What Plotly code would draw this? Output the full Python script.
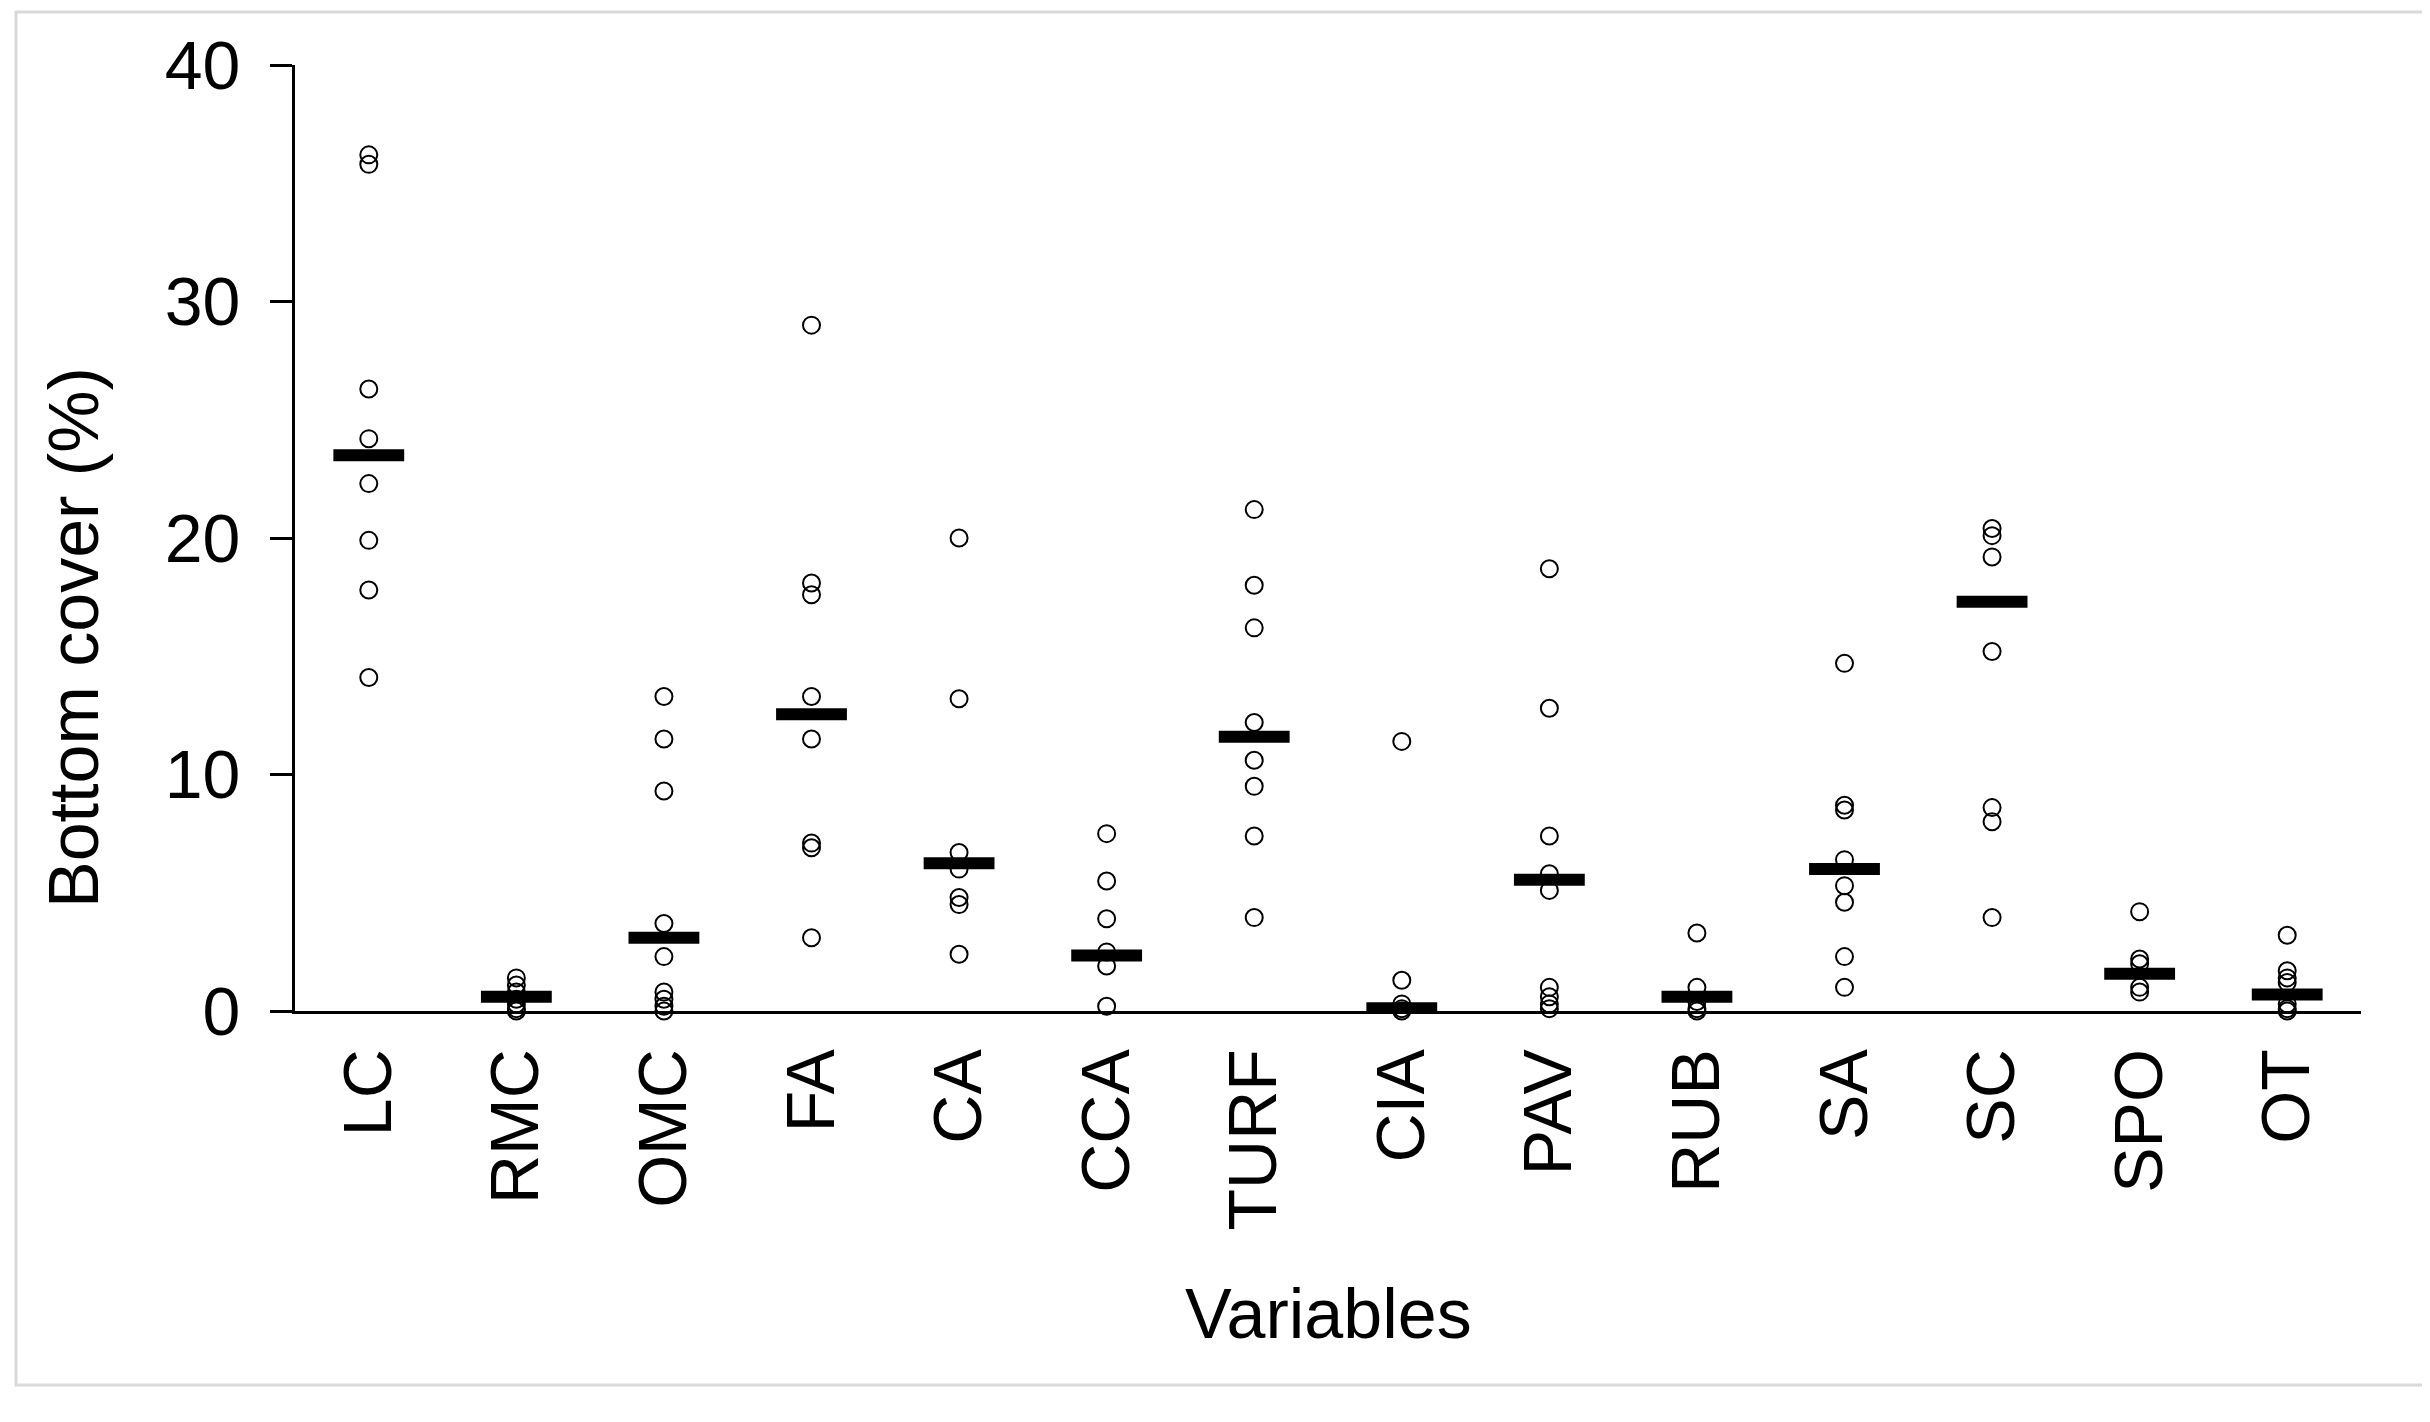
import plotly.graph_objects as go

categories = ["LC", "RMC", "OMC", "FA", "CA", "CCA", "TURF", "CIA", "PAV", "RUB", "SA", "SC", "SPO", "OT"]

lc = [36.2, 35.8, 26.3, 24.2, 22.3, 19.9, 17.8, 14.1]
rmc = [1.4, 1.1, 0.8, 0.5, 0.3, 0.1, 0.0]
omc = [13.3, 11.5, 9.3, 3.7, 2.3, 0.8, 0.5, 0.2, 0.0]
fa = [29.0, 18.1, 17.6, 13.3, 11.5, 7.1, 6.9, 3.1]
ca = [20.0, 13.2, 6.7, 6.0, 4.8, 4.5, 2.4]
cca = [7.5, 5.5, 3.9, 2.5, 1.9, 0.2]
turf = [21.2, 18.0, 16.2, 12.2, 10.6, 9.5, 7.4, 3.95]
cia = [11.4, 1.3, 0.3, 0.1, 0.0]
pav = [18.7, 12.8, 7.4, 5.8, 5.1, 1.0, 0.6, 0.3, 0.1]
rub = [3.3, 1.0, 0.4, 0.1, 0.0]
sa = [14.7, 8.7, 8.5, 6.4, 5.3, 4.6, 2.3, 1.0]
sc = [20.4, 20.1, 19.2, 15.2, 8.6, 8.0, 3.95]
spo = [4.2, 2.2, 2.0, 1.0, 0.8]
ot = [3.2, 1.7, 1.4, 1.2, 0.3, 0.1, 0.0]

means = [23.5, 0.6, 3.1, 12.55, 6.25, 2.35, 11.6, 0.12, 5.55, 0.6, 6.0, 17.3, 1.57, 0.7]

y_ticks = [0, 10, 20, 30, 40]

series = [lc, rmc, omc, fa, ca, cca, turf, cia, pav, rub, sa, sc, spo, ot]

W, H = 2430, 1422
L, R, T, B = 287, 77, 57, 419
pw, ph = W - L - R, H - T - B

def px_x(p):
    return (p - L) / pw

def px_y(p):
    return (H - B - p) / ph

FONT = "Liberation Sans, Arial, sans-serif"

xs, ys = [], []
for i, vals in enumerate(series):
    for v in vals:
        xs.append(i + 1)
        ys.append(v)

mx, my = [], []
hw = 0.24
for i, m in enumerate(means):
    mx += [i + 1 - hw, i + 1 + hw, None]
    my += [m, m, None]

fig = go.Figure()
fig.add_trace(go.Scatter(
    x=xs, y=ys, mode="markers", cliponaxis=False,
    marker=dict(symbol="circle-open", size=17, color="black", line=dict(width=2, color="black")),
    showlegend=False, hoverinfo="skip",
))
fig.add_trace(go.Scatter(
    x=mx, y=my, mode="lines", cliponaxis=False,
    line=dict(color="black", width=12),
    showlegend=False, hoverinfo="skip",
))

fig.update_layout(
    width=W, height=H,
    margin=dict(l=L, r=R, t=T, b=B, pad=0),
    paper_bgcolor="white", plot_bgcolor="white",
    font=dict(family=FONT, color="black", size=68),
    xaxis=dict(
        range=[0.5, len(categories) + 0.5],
        tickmode="array", tickvals=list(range(1, len(categories) + 1)), ticktext=categories,
        tickangle=-90, ticks="", showgrid=False, zeroline=False,
        showline=True, linecolor="black", linewidth=3,
        tickfont=dict(size=68, family=FONT, color="black"),
        ticklabelstandoff=8,
    ),
    yaxis=dict(
        range=[0, 40], tickmode="array", tickvals=y_ticks,
        ticks="outside", ticklen=22, tickwidth=3, tickcolor="black",
        showgrid=False, zeroline=False,
        showline=True, linecolor="black", linewidth=3,
        tickfont=dict(size=68, family=FONT, color="black"),
        ticklabelstandoff=16,
    ),
    annotations=[
        dict(text="Bottom cover (%)", xref="paper", yref="paper", x=px_x(66), y=px_y(630),
             xanchor="center", yanchor="middle", textangle=-90, showarrow=False,
             font=dict(size=70, family=FONT, color="black")),
        dict(text="Variables", xref="paper", yref="paper", x=0.5, y=px_y(1306),
             xanchor="center", yanchor="middle", showarrow=False,
             font=dict(size=70, family=FONT, color="black")),
    ],
    shapes=[
        dict(type="rect", xref="paper", yref="paper",
             x0=px_x(8), x1=px_x(2422), y0=px_y(1377), y1=px_y(4),
             line=dict(color="#d9d9d9", width=3), fillcolor="rgba(0,0,0,0)", layer="below"),
    ],
)

fig.write_html("out.html")
